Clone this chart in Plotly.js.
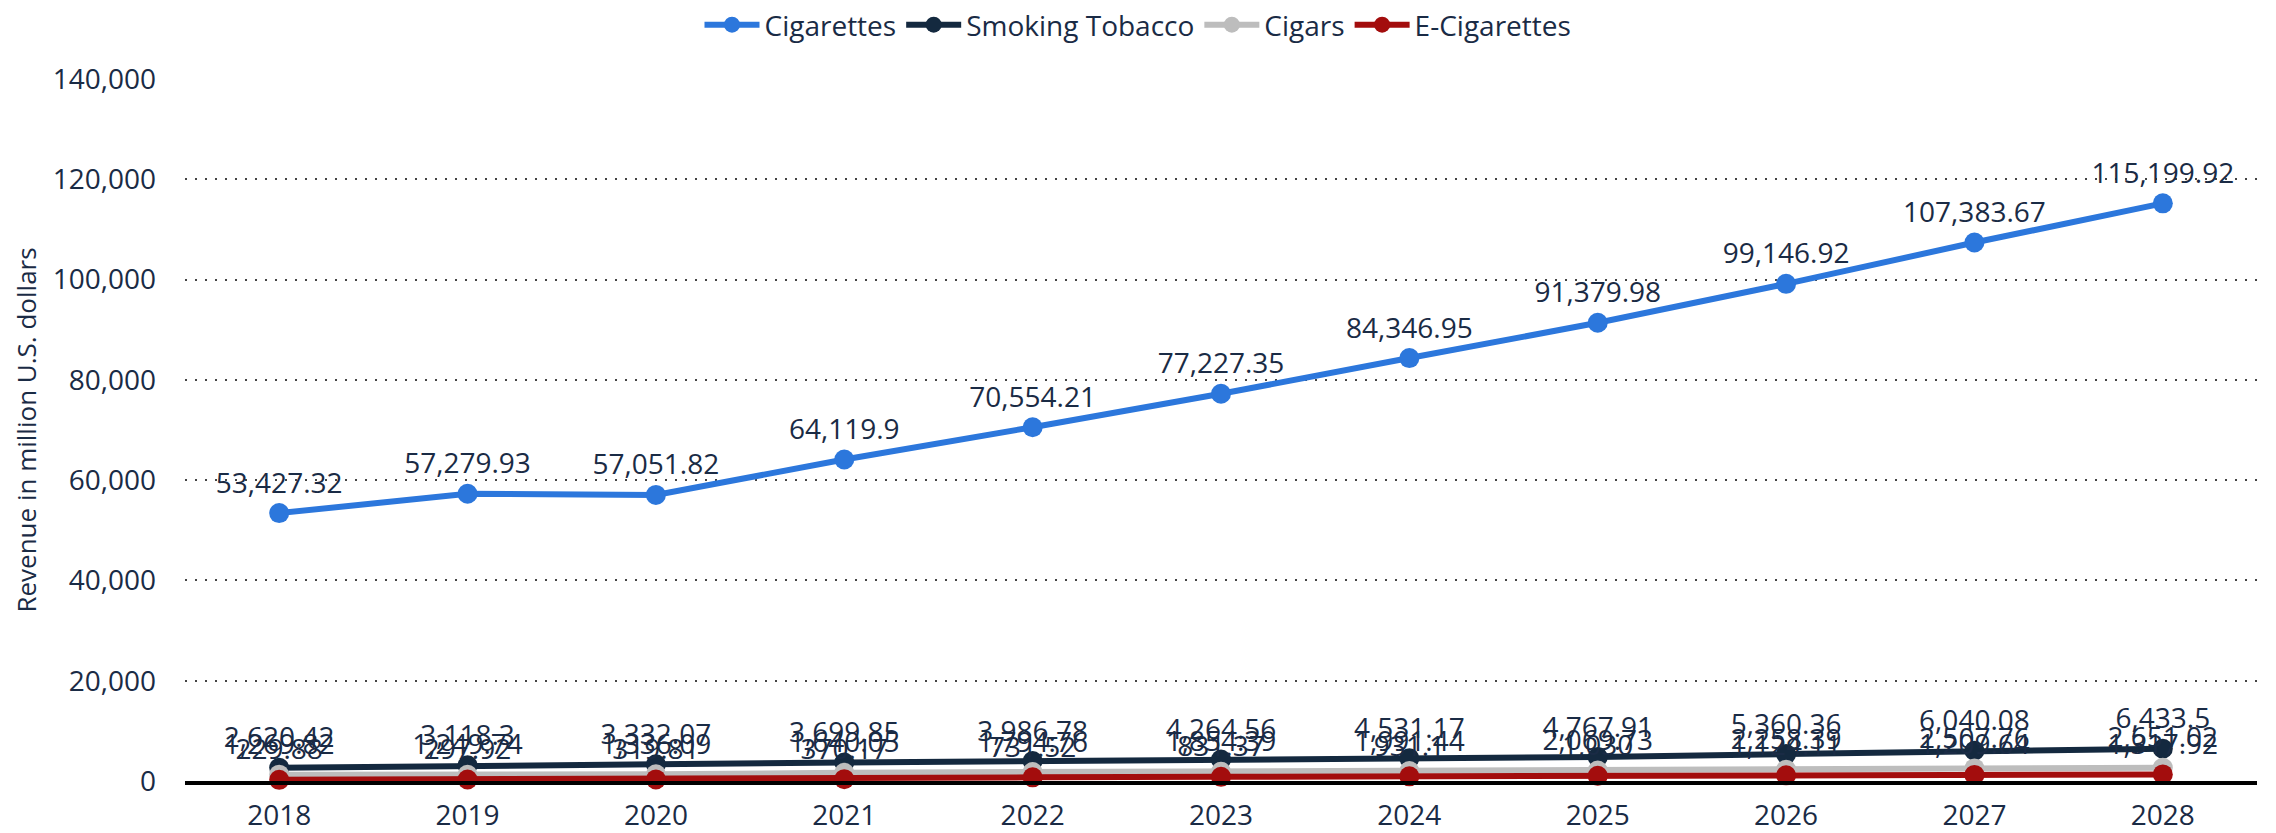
<!DOCTYPE html>
<html>
<head>
<meta charset="utf-8">
<script src="https://cdn.plot.ly/plotly-3.0.1.min.js"></script>
<style>
html, body { margin: 0; padding: 0; background: #ffffff; }
#chart { width: 2276px; height: 833px; }
</style>
</head>
<body>
<div id="chart"></div>
<script>
const years = ["2018", "2019", "2020", "2021", "2022", "2023", "2024", "2025", "2026", "2027", "2028"];
const cigarettes = [53427.32, 57279.93, 57051.82, 64119.9, 70554.21, 77227.35, 84346.95, 91379.98, 99146.92, 107383.67, 115199.92];
const smokingTobacco = [2620.42, 3118.3, 3332.07, 3699.85, 3986.78, 4264.56, 4531.17, 4767.91, 5360.36, 6040.08, 6433.5];
const cigars = [1269.82, 1249.74, 1336.09, 1640.05, 1794.76, 1854.39, 1991.44, 2069.73, 2258.39, 2507.76, 2651.02];
const eCigarettes = [229.88, 297.92, 319.81, 370.17, 731.52, 831.37, 931.1, 1030, 1124.11, 1209.64, 1317.92];

const textColor = "#1a2b45";
const fmt = v => v.toLocaleString("en-US", {maximumFractionDigits: 2});

function series(name, vals, color) {
  return {
    x: years, y: vals, name: name, type: "scatter", mode: "lines+markers+text",
    line: {color: color, width: 6},
    marker: {color: color, size: 20},
    text: vals.map(fmt), textposition: "top center",
    textfont: {family: "Open Sans, sans-serif", size: 28, color: textColor},
    cliponaxis: false,
    hoverinfo: "x+y"
  };
}

const data = [
  series("Cigarettes", cigarettes, "#2c77dc"),
  series("Smoking Tobacco", smokingTobacco, "#14293f"),
  series("Cigars", cigars, "#bdbdbd"),
  series("E-Cigarettes", eCigarettes, "#a30d0d")
];

const layout = {
  width: 2276, height: 833,
  paper_bgcolor: "#ffffff", plot_bgcolor: "#ffffff",
  font: {family: "Open Sans, sans-serif", size: 28, color: textColor},
  margin: {l: 185, r: 19, t: 79, b: 52, pad: 0},
  showlegend: true,
  legend: {orientation: "h", x: 0.5, xref: "container", xanchor: "center", y: 1, yref: "container", yanchor: "top",
           font: {size: 28, color: textColor}, itemwidth: 55, tracegroupgap: 0},
  xaxis: {
    type: "category", range: [-0.5, 10.5],
    showgrid: false, showline: true, linecolor: "#000000", linewidth: 4,
    ticks: "", tickfont: {size: 28, color: textColor}, ticklabelstandoff: 6
  },
  yaxis: {
    range: [0, 140000], dtick: 20000, tickformat: ",",
    showgrid: true, gridcolor: "#444444", griddash: "2px,8px", gridwidth: 2,
    zeroline: false, showline: false, ticks: "",
    tickfont: {size: 28, color: textColor}, ticklabelstandoff: 28,
    title: {text: "Revenue in million U.S. dollars", font: {size: 26, color: textColor}, standoff: 8}
  }
};

Plotly.newPlot("chart", data, layout, {displayModeBar: false, responsive: false});
</script>
</body>
</html>
